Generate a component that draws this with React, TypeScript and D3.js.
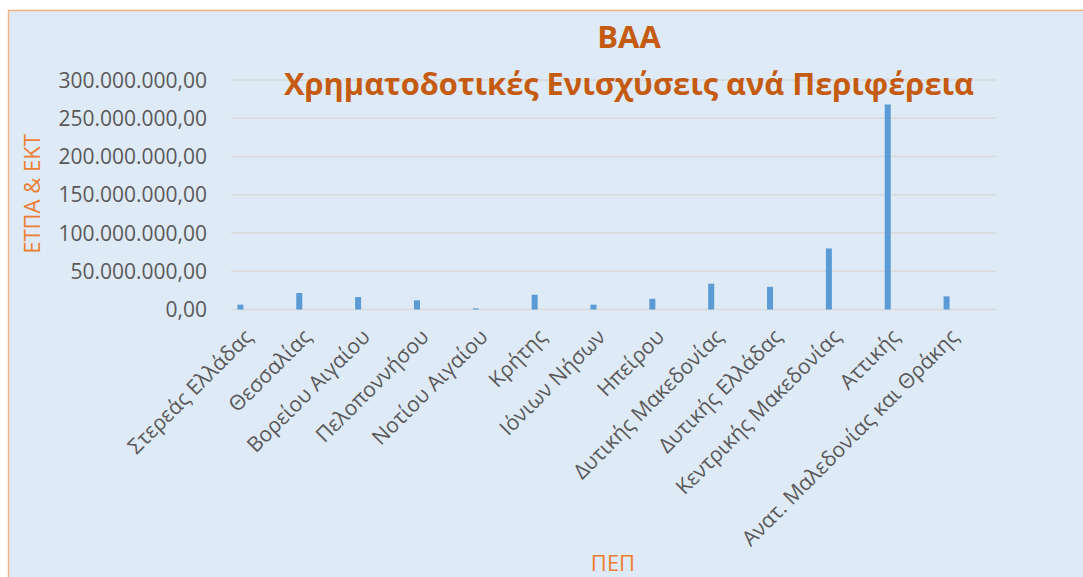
import React, {useEffect, useRef} from 'react'
import * as d3 from 'd3'

// regions (x axis) and funding per region in euro
const categories = [
  'Στερεάς Ελλάδας', 'Θεσσαλίας', 'Βορείου Αιγαίου', 'Πελοποννήσου', 'Νοτίου Αιγαίου',
  'Κρήτης', 'Ιόνιων Νήσων', 'Ηπείρου', 'Δυτικής Μακεδονίας', 'Δυτικής Ελλάδας',
  'Κεντρικής Μακεδονίας', 'Αττικής', 'Ανατ. Μαλεδονίας και Θράκης'
]
const values = [
  6300000, 21500000, 16300000, 12000000, 1500000,
  19300000, 6300000, 14000000, 33700000, 29700000,
  79800000, 268000000, 17200000
]
const yTicks = [0, 50000000, 100000000, 150000000, 200000000, 250000000, 300000000]

const W = 1083
const H = 577

export default function App() {
  const svgRef = useRef<SVGSVGElement>(null)

  useEffect(() => {
    const svg = d3.select(svgRef.current)
    svg.selectAll('*').remove()

    const left = 231, right = 996, top = 80, bottom = 309.5

    // chart background + frame
    svg.append('rect')
      .attr('x', 8.5).attr('y', 10.5)
      .attr('width', W + 10).attr('height', H + 10)
      .attr('fill', '#DEEAF6')
      .attr('stroke', '#F4B183')
      .attr('stroke-width', 1.5)

    const x = d3.scaleBand<string>().domain(categories).range([left, right])
    const y = d3.scaleLinear().domain([0, 300000000]).range([bottom, top])

    const fmt = (v: number) => d3.format(',.2f')(v).replace(/,/g, '#').replace('.', ',').replace(/#/g, '.')

    // gridlines
    svg.append('g').selectAll('line')
      .data(yTicks)
      .enter()
      .append('line')
      .attr('x1', left).attr('x2', right)
      .attr('y1', d => y(d)).attr('y2', d => y(d))
      .attr('stroke', '#D9D9D9')
      .attr('stroke-width', 1.5)

    // y tick labels
    svg.append('g').selectAll('text')
      .data(yTicks)
      .enter()
      .append('text')
      .attr('x', 207)
      .attr('y', d => y(d))
      .attr('dy', '0.36em')
      .attr('text-anchor', 'end')
      .attr('fill', '#595959')
      .style('font-family', 'Open Sans')
      .style('font-size', '21px')
      .text(d => fmt(d))

    // bars (first series of the cluster, left of category centre)
    const bw = 6
    svg.append('g').selectAll('rect')
      .data(values)
      .enter()
      .append('rect')
      .attr('x', (d, i) => (x(categories[i]) as number) + x.bandwidth() / 2 - 20 - bw / 2)
      .attr('y', d => y(d))
      .attr('width', bw)
      .attr('height', d => bottom - y(d))
      .attr('fill', '#5B9BD5')

    // category labels, rotated
    svg.append('g').selectAll('text')
      .data(categories)
      .enter()
      .append('text')
      .attr('transform', d => 'translate(' + ((x(d) as number) + x.bandwidth() / 2 - 12) + ',' + 333 + ') rotate(-45)')
      .attr('text-anchor', 'end')
      .attr('dy', '0.35em')
      .attr('fill', '#595959')
      .style('font-family', 'Open Sans')
      .style('font-size', '21px')
      .text(d => d)

    // titles
    svg.append('text')
      .attr('x', 629).attr('y', 48)
      .attr('text-anchor', 'middle')
      .attr('fill', '#C55A11')
      .style('font-family', 'Open Sans')
      .style('font-weight', 'bold')
      .style('font-size', '31px')
      .text('ΒΑΑ')

    svg.append('text')
      .attr('x', 629).attr('y', 95)
      .attr('text-anchor', 'middle')
      .attr('fill', '#C55A11')
      .attr('textLength', 690)
      .attr('lengthAdjust', 'spacingAndGlyphs')
      .style('font-family', 'Open Sans')
      .style('font-weight', 'bold')
      .style('font-size', '31px')
      .text('Χρηματοδοτικές Ενισχύσεις ανά Περιφέρεια')

    svg.append('text')
      .attr('transform', 'translate(40,194) rotate(-90)')
      .attr('text-anchor', 'middle')
      .attr('fill', '#ED7D31')
      .style('font-family', 'Open Sans')
      .style('font-size', '22px')
      .text('ΕΤΠΑ & ΕΚΤ')

    svg.append('text')
      .attr('x', 613).attr('y', 571)
      .attr('text-anchor', 'middle')
      .attr('fill', '#ED7D31')
      .style('font-family', 'Open Sans')
      .style('font-size', '22px')
      .text('ΠΕΠ')
  }, [])

  return (
    <svg ref={svgRef} width={W} height={H}
      style={{position: 'fixed', left: 0, top: 0, background: '#fff'}}></svg>
  )
}
